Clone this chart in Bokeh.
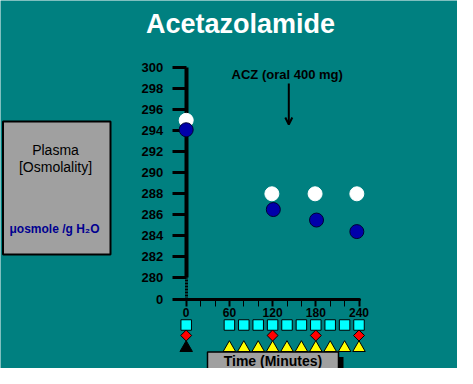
import math
from bokeh.plotting import figure
from bokeh.models import (LinearAxis, FixedTicker, Range1d, Label, BoxAnnotation,
                          Arrow, OpenHead)
from bokeh.embed import file_html
from bokeh.resources import INLINE

# ---------------- data ----------------
times_white = [0, 119, 179, 237]
osm_white = [295.0, 288.0, 288.0, 288.0]
times_blue = [0, 121, 181, 237]
osm_blue = [294.1, 286.5, 285.5, 284.4]

y_ticks = [280, 282, 284, 286, 288, 290, 292, 294, 296, 298, 300]
break_value = 277.9          # position of the "0" on the broken axis
break_label = "0"
x_ticks = [0, 60, 120, 180, 240]
x_minor_ticks = [20, 40, 80, 100, 140, 160, 200, 220]

square_times = [0, 60, 80, 100, 120, 140, 160, 180, 200, 220, 240]
diamond_times = [0, 120, 180, 240]
black_triangle_times = [0]
yellow_triangle_times = [60, 80, 100, 120, 140, 160, 180, 200, 220, 240]

# ---------------- layout helpers (pixel -> data) ----------------
W, H = 457, 368
X0 = 185.7      # pixel of t = 0
PXM = 0.72      # pixels per minute
Y300 = 67.3     # pixel of 300
PXU = 10.5      # pixels per mosm unit


def dx(fx):
    return (fx - X0) / PXM


def dy(fy):
    return 300 - (fy - Y300) / PXU


TEAL = "#008080"
GRAY = "#A0A0A0"
FONT = "Liberation Sans"

p = figure(width=W, height=H, x_range=Range1d(dx(0), dx(W)), y_range=Range1d(dy(H), dy(0)),
           x_axis_type=None, y_axis_type=None, toolbar_location=None, output_backend="svg",
           min_border=0, background_fill_color=TEAL, border_fill_color=TEAL,
           outline_line_color=None)

# ---------------- axes ----------------
yaxis = LinearAxis(ticker=FixedTicker(ticks=y_ticks, minor_ticks=[]), bounds=(280, 300),
                   fixed_location=0, axis_line_width=4, axis_line_color="black",
                   major_tick_line_width=3, major_tick_out=14, major_tick_in=0,
                   minor_tick_out=0, minor_tick_in=0,
                   major_label_text_font=FONT, major_label_text_font_style="bold",
                   major_label_text_font_size="13px", major_label_text_color="black",
                   major_label_standoff=9, level="underlay")
p.add_layout(yaxis, "left")

ybreak = LinearAxis(ticker=FixedTicker(ticks=[break_value], minor_ticks=[]),
                    bounds=(break_value, 280), fixed_location=0,
                    axis_line_width=3, axis_line_color="black", axis_line_dash="2 1",
                    major_tick_line_width=3, major_tick_out=14, major_tick_in=0,
                    minor_tick_out=0, minor_tick_in=0,
                    major_label_overrides={break_value: break_label},
                    major_label_text_font=FONT, major_label_text_font_style="bold",
                    major_label_text_font_size="13px", major_label_text_color="black",
                    major_label_standoff=9, level="underlay")
p.add_layout(ybreak, "left")

xaxis = LinearAxis(ticker=FixedTicker(ticks=x_ticks, minor_ticks=x_minor_ticks),
                   bounds=(0, 240), fixed_location=break_value,
                   axis_line_width=3, axis_line_color="black", axis_line_cap="round",
                   major_tick_line_width=2, major_tick_out=7, major_tick_in=0,
                   minor_tick_line_width=1, minor_tick_out=7, minor_tick_in=0,
                   minor_tick_line_color="black",
                   major_label_text_font=FONT, major_label_text_font_style="bold",
                   major_label_text_font_size="12px", major_label_text_color="black",
                   major_label_standoff=1, level="underlay")
p.add_layout(xaxis, "below")

# ---------------- data points ----------------
p.scatter(times_white, osm_white, marker="circle", size=14,
          fill_color="white", line_color="white")
p.scatter(times_blue, osm_blue, marker="circle", size=14,
          fill_color="#0000AA", line_color="#000033", line_width=1)

# ---------------- sampling markers below the axis ----------------
row_sq = dy(324.5)
row_di = dy(335)
row_tr = dy(347.4)
p.scatter(square_times, [row_sq] * len(square_times), marker="square", size=10.5,
          fill_color="#00FFFF", line_color="black", line_width=1)
p.scatter(diamond_times, [row_di] * len(diamond_times), marker="square", angle=math.pi / 4,
          size=7.8, fill_color="#FF0000", line_color="black", line_width=1)
p.scatter(black_triangle_times, [row_tr] * len(black_triangle_times), marker="triangle",
          size=12.5, fill_color="black", line_color="black", line_width=1)
p.scatter(yellow_triangle_times, [row_tr] * len(yellow_triangle_times), marker="triangle",
          size=12.5, fill_color="#FFFF00", line_color="black", line_width=1)

# ---------------- title ----------------
p.add_layout(Label(x=dx(240), y=dy(23), text="Acetazolamide", text_align="center",
                   text_baseline="alphabetic", text_font=FONT, text_font_style="bold",
                   text_font_size="27px", text_color="white"))

# ---------------- left box ----------------
p.add_layout(BoxAnnotation(left=dx(2.5), right=dx(110), top=dy(121), bottom=dy(254),
                           fill_color=GRAY, fill_alpha=1, line_color="black",
                           line_width=2, line_alpha=1))
bx = 55
p.add_layout(Label(x=dx(bx), y=dy(149.5), text="Plasma", text_align="center",
                   text_baseline="alphabetic", text_font=FONT, text_font_size="14px",
                   text_color="black"))
p.add_layout(Label(x=dx(bx), y=dy(166.1), text="[Osmolality]", text_align="center",
                   text_baseline="alphabetic", text_font=FONT, text_font_size="14px",
                   text_color="black"))
p.add_layout(Label(x=dx(bx - 1), y=dy(228.4), text="\u03bcosmole /g H\u2082O", text_align="center",
                   text_baseline="alphabetic", text_font=FONT, text_font_style="bold",
                   text_font_size="12px", text_color="#000090"))

# ---------------- annotation ----------------
p.add_layout(Label(x=dx(286.7), y=dy(73.8), text="ACZ (oral 400 mg)", text_align="center",
                   text_baseline="alphabetic", text_font=FONT, text_font_style="bold",
                   text_font_size="13px", text_color="black"))
p.add_layout(Arrow(end=OpenHead(size=7, line_width=2, line_color="black"),
                   x_start=dx(288.3), y_start=dy(83), x_end=dx(288.3), y_end=dy(124),
                   line_width=2, line_color="black"))

# ---------------- time label box ----------------
p.add_layout(BoxAnnotation(left=dx(212), right=dx(343), top=dy(356.5), bottom=dy(390),
                           fill_color="black", fill_alpha=1, line_alpha=0))
p.add_layout(BoxAnnotation(left=dx(207), right=dx(338), top=dy(351.5), bottom=dy(385),
                           fill_color=GRAY, fill_alpha=1, line_color="black",
                           line_width=1.5, line_alpha=1))
p.add_layout(Label(x=dx(272.5), y=dy(360), text="Time (Minutes)", text_align="center",
                   text_baseline="alphabetic", text_font=FONT, text_font_style="bold",
                   text_font_size="14px", text_color="black"))

open("out.html", "w").write(file_html(p, INLINE))
